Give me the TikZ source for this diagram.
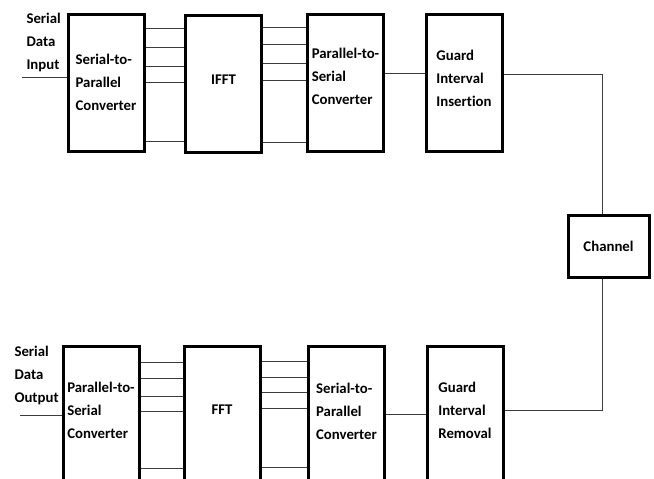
\documentclass[tikz,border=0pt]{standalone}
\usepackage{fontspec}
\setmainfont{Carlito}[Ligatures=NoCommon]
\usepackage{xcolor}
\definecolor{wiregray}{RGB}{60, 60, 60}

\begin{document}
\begin{tikzpicture}[x=1pt, y=-1pt,
  block/.style={draw=black, line width=3pt, minimum width=76pt, minimum height=137pt, align=left, inner sep=0pt},
  wire/.style={draw=wiregray, line width=1pt},
  every node/.style={font=\bfseries\fontsize{14.8}{23}\selectfont}]
\useasboundingbox (0,0) rectangle (654,479);
\clip (0,0) rectangle (654,479);

% transmitter
\node[block] (spconv) at (106,82.5) {Serial-to-\\Parallel\\Converter};
\node[block, text depth=8pt] (ifft) at (223.5,84) {IFFT};
\node[block, text depth=13pt] (psconv) at (345.5,82.5) {Parallel-to-\\Serial\\Converter};
\node[block, text depth=8pt] (gins) at (464,82.5) {Guard\\Interval\\Insertion};
\node[align=left, anchor=west] (inlabel) at (23,42) {Serial\\Data\\Input};

% channel
\node[draw=black, line width=3pt, minimum width=81pt, minimum height=62pt] (channel) at (608.5,246) {Channel};
\coordinate (ch) at (602,0);

% receiver
\node[block, text depth=8pt] (psconv2) at (101,414.5) {Parallel-to-\\Serial\\Converter};
\node[block, text depth=9pt] (fft) at (222,414.5) {FFT};
\node[block, text depth=7pt] (spconv2) at (346.5,414.5) {Serial-to-\\Parallel\\Converter};
\node[block, text depth=8pt] (grem) at (465,414.5) {Guard\\Interval\\Removal};
\node[align=left, anchor=west] (outlabel) at (11,375) {Serial\\Data\\Output};

% wires
\coordinate (in) at (22,77);
\draw[wire] (in) -- (in -| spconv.west);
\foreach \y in {28,47,66,82,141}
  \draw[wire] (spconv.east |- 0,\y) -- (ifft.west |- 0,\y);
\foreach \y in {27,44,63,80,142}
  \draw[wire] (ifft.east |- 0,\y) -- (psconv.west |- 0,\y);
\draw[wire] (psconv.east |- 0,73) -- (gins.west |- 0,73);
\draw[wire] (gins.east |- 0,74) -| (ch |- channel.north);
\draw[wire] (ch |- channel.south) |- (grem.east |- 0,410);
\draw[wire] (grem.west |- 0,414) -- (spconv2.east |- 0,414);
\foreach \y in {361,377,392,408,467}
  \draw[wire] (spconv2.west |- 0,\y) -- (fft.east |- 0,\y);
\foreach \y in {362,378,396,411,468}
  \draw[wire] (fft.west |- 0,\y) -- (psconv2.east |- 0,\y);
\coordinate (out) at (20,415);
\draw[wire] (psconv2.west |- out) -- (out);
\end{tikzpicture}
\end{document}
